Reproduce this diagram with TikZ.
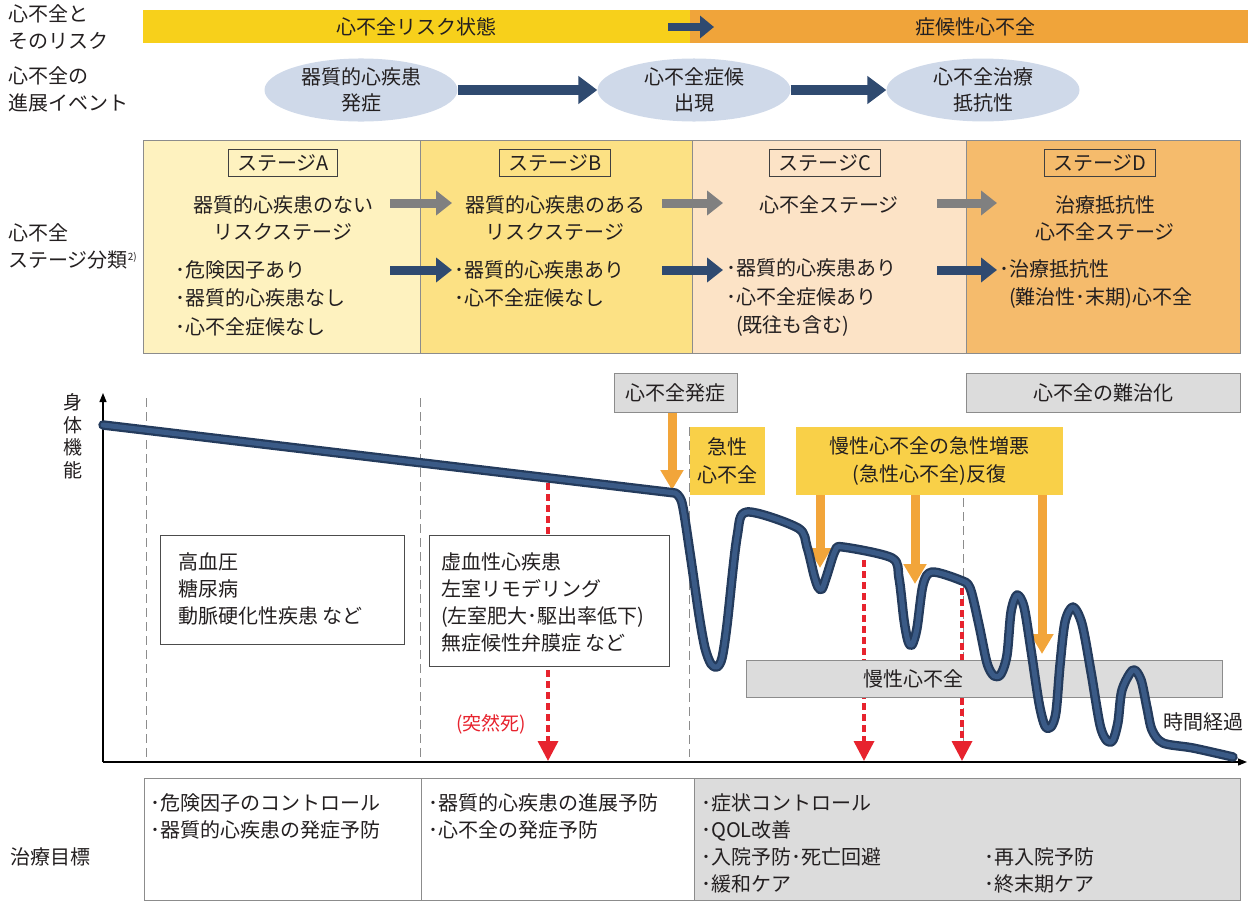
\documentclass[tikz,border=0pt]{standalone}
\usepackage{fontspec}
\setmainfont{Noto Sans CJK JP}
\usetikzlibrary{arrows.meta,shapes.geometric}
\definecolor{txtc}{HTML}{231F20}
\definecolor{barY}{HTML}{F7D01B}
\definecolor{barO}{HTML}{F0A43A}
\definecolor{ellc}{HTML}{CFD9E9}
\definecolor{navy}{HTML}{2F4A70}
\definecolor{arrgrey}{HTML}{808080}
\definecolor{stA}{HTML}{FEF2BF}
\definecolor{stB}{HTML}{FCE184}
\definecolor{stC}{HTML}{FCE3C6}
\definecolor{stD}{HTML}{F5BB6C}
\definecolor{bordc}{HTML}{8C8C8C}
\definecolor{yelbox}{HTML}{F9D048}
\definecolor{orarr}{HTML}{F2A53A}
\definecolor{greybox}{HTML}{DCDCDC}
\definecolor{redc}{HTML}{E7232E}
\definecolor{curveout}{HTML}{243B5C}
\definecolor{curvein}{HTML}{3A5A86}
\begin{document}
\begin{tikzpicture}[x=1pt,y=-1pt,
  base/.style={inner sep=0pt, font=\fontsize{20}{27}\selectfont, text=txtc},
  lefttxt/.style={base, align=left, anchor=west},
  ctxt/.style={base, align=center},
  bar/.style={anchor=north west, inner sep=0pt, minimum height=33pt, font=\fontsize{20}{24}\selectfont, text=txtc},
  evt/.style={ellipse, fill=ellc, minimum width=193pt, minimum height=55pt, inner sep=0pt, align=center, font=\fontsize{20}{26}\selectfont, text=txtc},
  stagebox/.style={anchor=north west, draw=bordc, line width=0.8pt, minimum height=213pt, inner sep=0pt},
  stagelabel/.style={draw=black!75, line width=0.9pt, inner xsep=9pt, inner ysep=0pt, minimum height=27pt, font=\fontsize{20}{24}\selectfont, text=txtc},
  navyarrow/.style={draw=navy, line width=9pt, -{Triangle[length=16pt,width=24pt]}},
  bignavy/.style={draw=navy, line width=10pt, -{Triangle[length=19pt,width=27pt]}},
  greyarrow/.style={draw=arrgrey, line width=9pt, -{Triangle[length=16pt,width=24pt]}},
  orangearrow/.style={draw=orarr, line width=9pt, -{Triangle[length=20pt,width=22pt]}},
  redarrow/.style={draw=redc, line width=3.5pt, dash pattern=on 7pt off 4pt, -{Triangle[length=20pt,width=20pt]}},
  gbox/.style={anchor=north west, fill=greybox, draw=bordc, line width=0.9pt, inner sep=0pt, font=\fontsize{20}{24}\selectfont, text=txtc},
  ybox/.style={anchor=north west, fill=yelbox, inner sep=0pt, align=center, font=\fontsize{20}{28}\selectfont, text=txtc},
  wbox/.style={anchor=north west, fill=white, draw=black!70, line width=1pt, inner sep=0pt},
  vdash/.style={draw=black!45, line width=1pt, dash pattern=on 9pt off 5pt},
  axis/.style={draw=black, line width=1.2pt, -{Triangle[length=9pt,width=7pt]}},
  tblcell/.style={anchor=north west, draw=black!45, line width=0.9pt, inner sep=0pt, minimum height=122pt}
]
\useasboundingbox (0,0) rectangle (1258,905);

% ---------- left labels ----------
\node[lefttxt] (l1) at (8,27) {心不全と\\そのリスク};
\node[lefttxt] (l2) at (8,89) {心不全の\\進展イベント};
\node[lefttxt] (l3) at (8,246) {心不全\\ステージ分類\raisebox{7pt}{\fontsize{10}{10}\selectfont 2)}};
\node[lefttxt] (l4) at (10,857) {治療目標};
\node[ctxt, font=\fontsize{19}{22.5}\selectfont] (l5) at (73,436) {身\\体\\機\\能};

% ---------- top bar ----------
\node[bar, fill=barY, minimum width=547pt] (riskbar) at (143,10) {心不全リスク状態};
\node[bar, fill=barO, minimum width=558pt] (symbar) at (690,10) {\hspace{12pt}症候性心不全};
\coordinate (ta1) at (668,27);
\coordinate (ta2) at (714,27);
\draw[draw=navy, line width=8pt, -{Triangle[length=14pt,width=22pt]}] (ta1) -- (ta2);

% ---------- events ----------
\node[evt] (e1) at (361,90) {器質的心疾患\\発症};
\node[evt] (e2) at (694,90) {心不全症候\\出現};
\node[evt] (e3) at (983,90) {心不全治療\\抵抗性};
\draw[bignavy] (e1.east) -- (e2.west);
\draw[bignavy] (e2.east) -- (e3.west);

% ---------- stages ----------
\node[stagebox, fill=stA, minimum width=277pt] (sA) at (143,140) {};
\node[stagebox, fill=stB, minimum width=272pt] (sB) at (420,140) {};
\node[stagebox, fill=stC, minimum width=274pt] (sC) at (692,140) {};
\node[stagebox, fill=stD, minimum width=274pt] (sD) at (966,140) {};

\node[stagelabel] (sAl) at (283,163) {ステージA};
\node[stagelabel] (sBl) at (555,163) {ステージB};
\node[stagelabel] (sCl) at (825,163) {ステージC};
\node[stagelabel] (sDl) at (1100,163) {ステージD};

\node[ctxt] (rA) at (283,218) {器質的心疾患のない\\リスクステージ};
\node[ctxt] (rB) at (555,218) {器質的心疾患のある\\リスクステージ};
\node[ctxt] (rC) at (829,205) {心不全ステージ};
\node[ctxt] (rD) at (1105,218) {治療抵抗性\\心不全ステージ};

\coordinate (g1a) at (390,203); \coordinate (g1b) at (452,203);
\coordinate (g2a) at (662,203); \coordinate (g2b) at (723,203);
\coordinate (g3a) at (937,203); \coordinate (g3b) at (997,203);
\draw[greyarrow] (g1a) -- (g1b);
\draw[greyarrow] (g2a) -- (g2b);
\draw[greyarrow] (g3a) -- (g3b);

\node[lefttxt, font=\fontsize{20}{28.5}\selectfont] (bA) at (175,298) {･危険因子あり\\･器質的心疾患なし\\･心不全症候なし};
\node[lefttxt, font=\fontsize{20}{28.5}\selectfont] (bB) at (454,284) {･器質的心疾患あり\\･心不全症候なし};
\node[lefttxt, font=\fontsize{20}{28.5}\selectfont] (bC) at (726,298) {･器質的心疾患あり\\･心不全症候あり\\\phantom{･}(既往も含む)};
\node[lefttxt, font=\fontsize{20}{28.5}\selectfont] (bD) at (999,284) {･治療抵抗性\\\phantom{･}(難治性･末期)心不全};

\coordinate (n1a) at (390,270); \coordinate (n1b) at (452,270);
\coordinate (n2a) at (662,270); \coordinate (n2b) at (723,270);
\coordinate (n3a) at (937,270); \coordinate (n3b) at (997,270);
\draw[navyarrow] (n1a) -- (n1b);
\draw[navyarrow] (n2a) -- (n2b);
\draw[navyarrow] (n3a) -- (n3b);

% ---------- graph ----------
\coordinate (O) at (103,762);
\coordinate (ytop) at (103,393);
\coordinate (xend) at (1247,762);
\draw[axis] (O) -- (ytop);
\draw[axis] (O) -- (xend);

\coordinate (d1t) at (146,398); \coordinate (d1b) at (146,757);
\coordinate (d2t) at (420,398); \coordinate (d2b) at (420,757);
\coordinate (d3t) at (689,427); \coordinate (d3b) at (689,757);
\coordinate (d4t) at (963,498); \coordinate (d4b) at (963,757);
\draw[vdash] (d1t) -- (d1b);
\draw[vdash] (d2t) -- (d2b);
\draw[vdash] (d3t) -- (d3b);
\draw[vdash] (d4t) -- (d4b);

% red sudden death arrows
\coordinate (r1t) at (548,483); \coordinate (r1b) at (548,761);
\coordinate (r2t) at (864,560); \coordinate (r2b) at (864,761);
\coordinate (r3t) at (962,588); \coordinate (r3b) at (962,761);
\draw[redarrow] (r1t) -- (r1b);
\draw[redarrow] (r2t) -- (r2b);
\draw[redarrow] (r3t) -- (r3b);
\node[base, text=redc, font=\fontsize{19}{24}\selectfont] (sd) at (491,724) {(突然死)};

% white boxes
\node[wbox, minimum width=244pt, minimum height=109pt] (w1) at (160,535) {};
\node[lefttxt] (w1t) at (178,589) {高血圧\\糖尿病\\動脈硬化性疾患 など};
\node[wbox, minimum width=240pt, minimum height=131pt] (w2) at (429,535) {};
\node[lefttxt] (w2t) at (441,602.5) {虚血性心疾患\\左室リモデリング\\(左室肥大･駆出率低下)\\無症候性弁膜症 など};

% grey boxes
\node[gbox, minimum width=123pt, minimum height=39pt] (onset) at (614,373) {心不全発症};
\node[gbox, minimum width=274pt, minimum height=39pt] (refr) at (966,373) {心不全の難治化};
\node[gbox, minimum width=476pt, minimum height=37pt] (chronic) at (746,660) {};
\node[base, font=\fontsize{20}{24}\selectfont] (chronict) at (913,678.5) {慢性心不全};

% yellow boxes
\node[ybox, minimum width=75pt, minimum height=68pt] (acute) at (690,427) {急性\\心不全};
\node[ybox, minimum width=267pt, minimum height=68pt] (acuterep) at (796,427) {慢性心不全の急性増悪\\(急性心不全)反復};

% orange arrows
\coordinate (o0) at (672,490);
\coordinate (o1) at (820,568);
\coordinate (o2) at (915,584);
\coordinate (o3) at (1042,654);
\draw[orangearrow] (o0 |- onset.south) -- (o0);
\draw[orangearrow] (o1 |- acuterep.south) -- (o1);
\draw[orangearrow] (o2 |- acuterep.south) -- (o2);
\draw[orangearrow] (o3 |- acuterep.south) -- (o3);

% curve
\coordinate (cstart) at (103,425);
\foreach \w/\c in {9.5pt/curveout, 5pt/curvein}{
\draw[draw=\c, line width=\w, line join=round, line cap=round] (cstart) -- plot[smooth, tension=0.5] coordinates {
(675,493) (682,503) (690,553) (699,615) (705,648) (711,664) (717,667) (722,658) (727,625)
(737,537) (747,512) (798,528) (807,547) (814,575) (818,587) (822,589) (827,575) (835,551)
(843,547) (892,558) (899,578) (904,620) (908,641) (912,645) (917,628) (923,585) (932,572)
(960,580) (970,588) (979,625) (987,663) (994,676) (1001,674) (1007,655) (1011,612) (1017,595)
(1024,607) (1031,650) (1039,703) (1045,726) (1051,727) (1056,712) (1060,665) (1065,622) (1073,607)
(1082,624) (1091,672) (1100,725) (1107,741) (1113,740) (1118,722) (1122,690) (1133,670) (1141,680)
(1147,708) (1152,730) (1163,743) (1193,748) (1233,757)};
}
\node[base, anchor=west] (time) at (1163,722) {時間経過};

% ---------- bottom table ----------
\node[tblcell, fill=white, minimum width=277pt] (c1) at (144,778) {};
\node[tblcell, fill=white, minimum width=273pt] (c2) at (421,778) {};
\node[tblcell, fill=greybox, minimum width=546pt] (c3) at (694,778) {};
\node[lefttxt] (c1t) at (150,816.5) {･危険因子のコントロール\\･器質的心疾患の発症予防};
\node[lefttxt] (c2t) at (428,816.5) {･器質的心疾患の進展予防\\･心不全の発症予防};
\node[lefttxt] (c3t) at (701,843.5) {･症状コントロール\\･QOL改善\\･入院予防･死亡回避\\･緩和ケア};
\node[lefttxt] (c3r) at (984,870.5) {･再入院予防\\･終末期ケア};
\end{tikzpicture}
\end{document}
